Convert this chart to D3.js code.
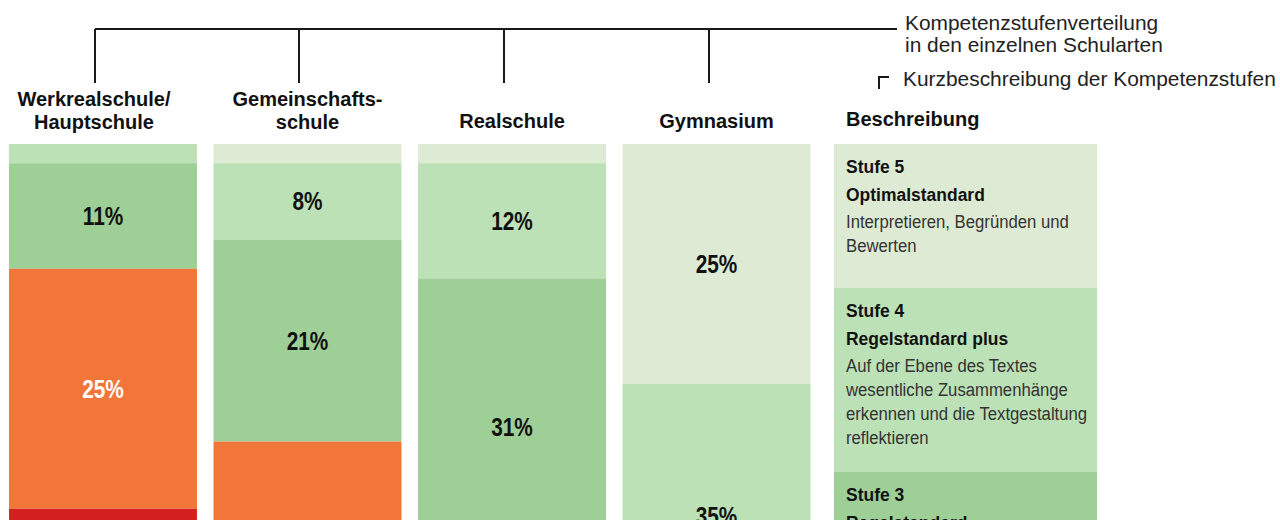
<!DOCTYPE html>
<html>
<head>
<meta charset="utf-8">
<script src="https://cdn.jsdelivr.net/npm/d3@7"></script>
<style>
  body { margin: 0; background: #fff; }
  svg { display: block; font-family: "Liberation Sans", Arial, sans-serif; }
</style>
</head>
<body>
<svg width="1280" height="520"></svg>
<script>
// schools (columns) and their titles, one entry per line
const schools = ['WRS/HS', 'GMS', 'RS', 'GYM'];
const schoolTitles = [
    ['Werkrealschule/', 'Hauptschule'],
    ['Gemeinschafts-', 'schule'],
    ['Realschule'],
    ['Gymnasium'],
];

// competence levels, stacked top (5) to bottom (1)
const levels = ['Stufe 5', 'Stufe 4', 'Stufe 3', 'Stufe 2', 'Stufe 1'];
const levelColors = ['#deebd4', '#bde1b6', '#9ecf96', '#f2753a', '#d42020'];
const levelLabelColors = ['#111', '#111', '#111', '#fff', '#fff'];

// share of pupils per level (%) for each school type, order as levels
const werkrealschule = [0, 2, 11, 25, 62];
const gemeinschaftsschule = [2, 8, 21, 35, 34];
const realschule = [2, 12, 31, 36, 19];
const gymnasium = [25, 35, 30, 9, 1];

// short descriptions of the levels
const levelNames = ['Optimalstandard', 'Regelstandard plus', 'Regelstandard', 'Mindeststandard', 'Unter Mindeststandard'];
const levelTexts = [
    ['Interpretieren, Begründen und', 'Bewerten'],
    ['Auf der Ebene des Textes', 'wesentliche Zusammenhänge', 'erkennen und die Textgestaltung', 'reflektieren'],
    [],
    [],
    [],
];

const legendTop = ['Kompetenzstufenverteilung', 'in den einzelnen Schularten'];
const legendBottom = 'Kurzbeschreibung der Kompetenzstufen';
const descHeader = 'Beschreibung';

const values = [werkrealschule, gemeinschaftsschule, realschule, gymnasium];

const svg = d3.select('svg');
const height = +svg.attr('height');

const x = d3.scaleBand()
    .domain(schools)
    .range([9, 810.5])
    .paddingInner(0.081)
    .paddingOuter(0);

const y = d3.scaleLinear()
    .domain([0, 100])
    .range([144, 1104]);

// stacked segments, computed top-down
const segments = [];
schools.forEach((s, i) => {
    let acc = 0;
    values[i].forEach((v, j) => {
        segments.push({ school: s, level: j, value: v, start: acc, end: acc + v });
        acc += v;
    });
});

const bars = svg.append('g').attr('class', 'bars');

bars.selectAll('rect')
    .data(segments.filter(d => d.value > 0))
    .join('rect')
    .attr('x', d => x(d.school))
    .attr('width', x.bandwidth())
    .attr('y', d => y(d.start))
    .attr('height', d => y(d.end) - y(d.start))
    .attr('fill', d => levelColors[d.level]);

// label in the middle of the segment; a tall segment running off the page
// gets its label pulled up to the bottom edge
const labelY = (d) => {
    const mid = (y(d.start) + y(d.end)) / 2;
    if (mid > height && height - y(d.start) >= 100) return height - 4;
    return mid;
};

bars.selectAll('text')
    .data(segments.filter(d => d.value >= 5))
    .join('text')
    .attr('transform', d => `translate(${x(d.school) + x.bandwidth() / 2},${labelY(d)}) scale(0.8,1)`)
    .attr('text-anchor', 'middle')
    .attr('dominant-baseline', 'central')
    .attr('font-weight', 'bold')
    .attr('font-size', 26)
    .attr('fill', d => levelLabelColors[d.level])
    .text(d => `${d.value}%`);

// column titles
const titles = svg.append('g')
    .selectAll('text')
    .data(schools)
    .join('text')
    .attr('text-anchor', 'middle')
    .attr('font-weight', 'bold')
    .attr('font-size', 20)
    .attr('fill', '#111')
    .attr('transform', (d, i) => `translate(${x(d) + x.bandwidth() / 2 - (i === 0 ? 9 : 0)},${schoolTitles[i].length > 1 ? 106 : 128})`);

titles.selectAll('tspan')
    .data((d, i) => schoolTitles[i])
    .join('tspan')
    .attr('x', 0)
    .attr('dy', (d, k) => (k === 0 ? 0 : 23))
    .text(d => d);

// bracket above the columns
const bracketY = 29;
const bracketRight = 897;
const bracket = svg.append('g')
    .attr('stroke', '#1a1a1a')
    .attr('stroke-width', 2)
    .attr('fill', 'none');

const tickX = d => Math.round(x(d) + x.bandwidth() / 2 - 8);

bracket.append('line')
    .attr('x1', tickX(schools[0]))
    .attr('x2', bracketRight)
    .attr('y1', bracketY)
    .attr('y2', bracketY);

bracket.selectAll('.tick')
    .data(schools)
    .join('line')
    .attr('class', 'tick')
    .attr('x1', tickX)
    .attr('x2', tickX)
    .attr('y1', bracketY)
    .attr('y2', 83);

bracket.append('path')
    .attr('d', 'M879,89V77H889');

svg.append('text')
    .attr('x', 905)
    .attr('y', 30)
    .attr('font-size', 20.9)
    .attr('fill', '#222')
    .selectAll('tspan')
    .data(legendTop)
    .join('tspan')
    .attr('x', 905)
    .attr('dy', (d, k) => (k === 0 ? 0 : 22))
    .text(d => d);

svg.append('text')
    .attr('x', 903)
    .attr('y', 86)
    .attr('font-size', 20.9)
    .attr('fill', '#222')
    .text(legendBottom);

// description panel
const descX = 834;
const descW = 263;
svg.append('text')
    .attr('x', 846)
    .attr('y', 126)
    .attr('font-size', 20)
    .attr('font-weight', 'bold')
    .attr('fill', '#111')
    .text(descHeader);

let boxTop = 144;
const desc = svg.append('g');
levels.forEach((lv, j) => {
    const lines = levelTexts[j];
    const h = 64 + 20 * (2 + lines.length);
    const g = desc.append('g').attr('transform', `translate(${descX},${boxTop})`);
    g.append('rect')
        .attr('width', descW)
        .attr('height', h)
        .attr('fill', levelColors[j]);
    const ink = j >= 3 ? '#fff' : '#111';
    g.append('text')
        .attr('transform', 'translate(12,29) scale(0.92,1)')
        .attr('font-weight', 'bold').attr('font-size', 19)
        .attr('fill', ink)
        .text(lv);
    g.append('text')
        .attr('transform', 'translate(12,57) scale(0.92,1)')
        .attr('font-weight', 'bold').attr('font-size', 19)
        .attr('fill', ink)
        .text(levelNames[j]);
    g.selectAll('.d')
        .data(lines)
        .join('text')
        .attr('class', 'd')
        .attr('transform', (d, k) => `translate(12,${84 + 24 * k}) scale(0.88,1)`)
        .attr('font-size', 19)
        .attr('fill', j >= 3 ? '#fff' : '#333')
        .text(d => d);
    boxTop += h;
});
</script>
</body>
</html>
